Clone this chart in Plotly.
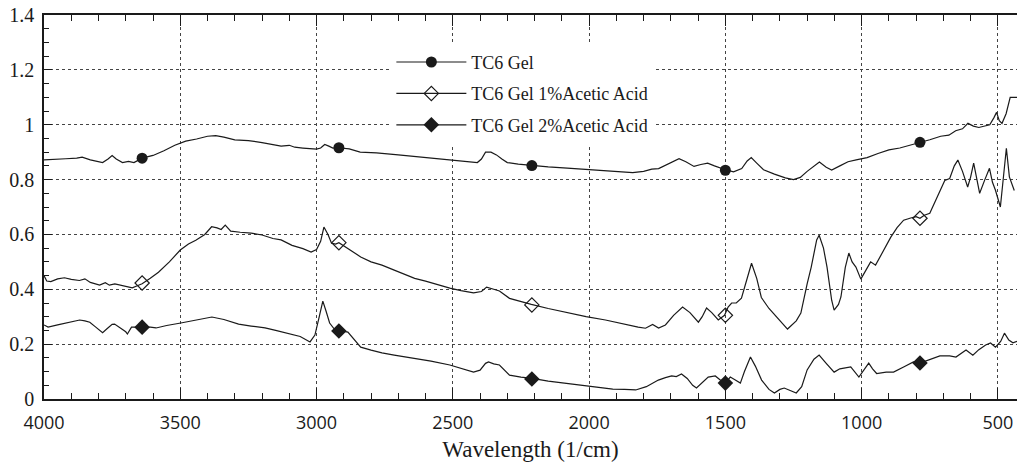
import plotly.graph_objects as go

# TC6 Gel
wn_gel = [4000, 3960, 3920, 3880, 3860, 3830, 3800, 3785, 3765, 3750, 3735, 3712, 3690, 3670, 3655, 3640,
          3600, 3560, 3520, 3480, 3440, 3400, 3370, 3340, 3300, 3250, 3200, 3160, 3130, 3100, 3080, 3050,
          3020, 3000, 2985, 2970, 2955, 2940, 2920, 2880, 2840, 2780, 2700, 2620, 2540, 2460, 2410, 2395,
          2380, 2360, 2340, 2320, 2300, 2260, 2210, 2150, 2080, 2020, 1950, 1880, 1840, 1800, 1770, 1745,
          1720, 1690, 1670, 1645, 1615, 1590, 1565, 1540, 1515, 1500, 1470, 1440, 1420, 1405, 1385, 1360,
          1320, 1280, 1250, 1225, 1200, 1175, 1155, 1130, 1110, 1080, 1050, 1020, 980, 940, 900, 860, 820,
          786, 750, 710, 680, 655, 630, 610, 590, 570, 550, 530, 515, 505, 495, 485, 470, 455, 430]
ab_gel = [0.872, 0.875, 0.876, 0.878, 0.882, 0.872, 0.866, 0.862, 0.875, 0.888, 0.875, 0.862, 0.866, 0.862,
          0.870, 0.878, 0.888, 0.905, 0.925, 0.940, 0.948, 0.958, 0.960, 0.955, 0.945, 0.942, 0.935, 0.926,
          0.922, 0.925, 0.918, 0.915, 0.912, 0.911, 0.915, 0.928, 0.922, 0.915, 0.916, 0.912, 0.900, 0.897,
          0.890, 0.882, 0.875, 0.868, 0.862, 0.875, 0.900, 0.900, 0.890, 0.875, 0.862, 0.856, 0.851, 0.846,
          0.842, 0.838, 0.832, 0.828, 0.825, 0.830, 0.838, 0.840, 0.852, 0.866, 0.876, 0.865, 0.848, 0.855,
          0.860, 0.850, 0.840, 0.836, 0.828, 0.840, 0.868, 0.880, 0.860, 0.836, 0.820, 0.806, 0.800, 0.808,
          0.830, 0.850, 0.864, 0.845, 0.835, 0.850, 0.865, 0.872, 0.880, 0.895, 0.908, 0.915, 0.925, 0.935,
          0.945, 0.958, 0.962, 0.978, 0.985, 1.005, 0.995, 0.990, 0.995, 1.000, 1.025, 1.045, 1.015, 1.005,
          1.040, 1.100, 1.100]

# TC6 Gel 1% Acetic Acid
wn_1 = [4000, 3990, 3975, 3950, 3925, 3900, 3870, 3850, 3830, 3810, 3796, 3775, 3760, 3740, 3730, 3710,
        3690, 3676, 3660, 3640, 3610, 3580, 3540, 3500, 3470, 3443, 3410, 3385, 3365, 3350, 3335, 3315,
        3280, 3240, 3200, 3160, 3130, 3090, 3050, 3020, 3000, 2985, 2973, 2958, 2945, 2930, 2918, 2890,
        2860, 2838, 2800, 2760, 2715, 2680, 2640, 2600, 2560, 2511, 2470, 2424, 2395, 2376, 2350, 2329,
        2292, 2250, 2212, 2150, 2080, 2011, 1940, 1865, 1820, 1793, 1767, 1745, 1720, 1690, 1657, 1630,
        1599, 1585, 1569, 1550, 1526, 1503, 1490, 1477, 1460, 1441, 1425, 1404, 1385, 1368, 1340, 1300,
        1272, 1240, 1223, 1200, 1185, 1165, 1156, 1140, 1127, 1110, 1101, 1085, 1076, 1060, 1047, 1035,
        1021, 1003, 985, 967, 949, 920, 893, 870, 846, 820, 800, 786, 770, 750, 720, 695, 677, 660, 647,
        630, 611, 600, 589, 578, 567, 549, 531, 520, 509, 491, 480, 469, 458, 440]
ab_1 = [0.450, 0.430, 0.428, 0.438, 0.442, 0.436, 0.432, 0.438, 0.425, 0.420, 0.415, 0.424, 0.415, 0.420,
        0.418, 0.412, 0.410, 0.405, 0.412, 0.420, 0.440, 0.462, 0.500, 0.543, 0.565, 0.579, 0.600, 0.628,
        0.624, 0.618, 0.634, 0.612, 0.608, 0.605, 0.598, 0.585, 0.580, 0.560, 0.548, 0.536, 0.545, 0.575,
        0.627, 0.600, 0.568, 0.565, 0.570, 0.552, 0.532, 0.518, 0.500, 0.488, 0.470, 0.455, 0.440, 0.430,
        0.418, 0.404, 0.395, 0.387, 0.392, 0.408, 0.400, 0.394, 0.367, 0.355, 0.345, 0.330, 0.315, 0.300,
        0.288, 0.270, 0.262, 0.258, 0.272, 0.259, 0.270, 0.305, 0.335, 0.315, 0.280, 0.300, 0.332, 0.315,
        0.288, 0.305, 0.335, 0.350, 0.350, 0.368, 0.420, 0.495, 0.440, 0.370, 0.330, 0.285, 0.255, 0.285,
        0.313, 0.420, 0.481, 0.580, 0.597, 0.550, 0.481, 0.360, 0.324, 0.345, 0.372, 0.480, 0.532, 0.500,
        0.481, 0.437, 0.470, 0.500, 0.488, 0.540, 0.590, 0.625, 0.652, 0.660, 0.665, 0.659, 0.670, 0.677,
        0.740, 0.797, 0.804, 0.850, 0.871, 0.830, 0.773, 0.810, 0.860, 0.800, 0.750, 0.797, 0.841, 0.790,
        0.761, 0.700, 0.800, 0.914, 0.810, 0.760]

# TC6 Gel 2% Acetic Acid
wn_2 = [4000, 3985, 3950, 3916, 3890, 3869, 3850, 3832, 3810, 3795, 3785, 3770, 3750, 3741, 3720, 3700,
        3694, 3679, 3660, 3640, 3610, 3589, 3550, 3498, 3440, 3384, 3340, 3286, 3240, 3189, 3150, 3105,
        3060, 3024, 3006, 2990, 2977, 2965, 2952, 2935, 2918, 2885, 2860, 2838, 2800, 2760, 2715, 2650,
        2580, 2511, 2470, 2424, 2400, 2380, 2369, 2350, 2329, 2292, 2250, 2209, 2150, 2080, 2011, 1950,
        1913, 1870, 1829, 1790, 1764, 1746, 1720, 1697, 1680, 1661, 1640, 1620, 1606, 1585, 1563, 1537,
        1520, 1500, 1482, 1465, 1445, 1430, 1408, 1390, 1367, 1340, 1320, 1300, 1284, 1260, 1240, 1220,
        1200, 1175, 1156, 1130, 1101, 1080, 1065, 1040, 1010, 995, 974, 960, 945, 910, 883, 846, 810, 786,
        750, 713, 677, 654, 617, 592, 570, 545, 527, 509, 490, 476, 460, 445, 430]
ab_2 = [0.270, 0.262, 0.270, 0.277, 0.282, 0.288, 0.285, 0.280, 0.262, 0.248, 0.242, 0.255, 0.272, 0.273,
        0.258, 0.245, 0.237, 0.262, 0.262, 0.262, 0.262, 0.259, 0.268, 0.277, 0.288, 0.299, 0.290, 0.273,
        0.266, 0.259, 0.250, 0.240, 0.228, 0.208, 0.233, 0.300, 0.357, 0.320, 0.277, 0.255, 0.250, 0.244,
        0.215, 0.189, 0.178, 0.168, 0.160, 0.150, 0.138, 0.124, 0.112, 0.098, 0.105, 0.130, 0.135, 0.128,
        0.124, 0.087, 0.080, 0.075, 0.065, 0.056, 0.046, 0.040, 0.036, 0.035, 0.033, 0.045, 0.058, 0.069,
        0.078, 0.084, 0.082, 0.091, 0.075, 0.050, 0.040, 0.060, 0.080, 0.084, 0.070, 0.058, 0.080, 0.070,
        0.058, 0.100, 0.153, 0.120, 0.069, 0.035, 0.022, 0.035, 0.040, 0.030, 0.022, 0.045, 0.106, 0.145,
        0.160, 0.130, 0.098, 0.110, 0.113, 0.117, 0.080, 0.100, 0.131, 0.110, 0.093, 0.098, 0.098, 0.117,
        0.135, 0.131, 0.145, 0.157, 0.157, 0.153, 0.179, 0.160, 0.180, 0.197, 0.204, 0.189, 0.210, 0.240,
        0.215, 0.205, 0.210]

# marker positions (every few hundred points in the original)
mk_wn = [3640, 2918, 2210, 1500, 786]
mk_gel = [0.878, 0.916, 0.851, 0.834, 0.936]
mk_1 = [0.423, 0.570, 0.343, 0.305, 0.659]
mk_2 = [0.262, 0.248, 0.073, 0.058, 0.131]

names = ["TC6 Gel", "TC6 Gel 1%Acetic Acid", "TC6 Gel 2%Acetic Acid"]
INK = "#1a1a1a"
marker_styles = [dict(symbol="circle", size=11, color=INK),
                 dict(symbol="diamond-open", size=11, color=INK, line=dict(width=1.2, color=INK)),
                 dict(symbol="diamond", size=12, color=INK)]

fig = go.Figure()
series = [(wn_gel, ab_gel, mk_gel), (wn_1, ab_1, mk_1), (wn_2, ab_2, mk_2)]
for i, (xs, ys, ms) in enumerate(series):
    fig.add_trace(go.Scatter(x=xs, y=ys, mode="lines", line=dict(color=INK, width=1.2),
                             showlegend=False, hoverinfo="skip"))
    fig.add_trace(go.Scatter(x=mk_wn, y=ms, mode="markers", marker=marker_styles[i], showlegend=False))
    # legend entry
    fig.add_trace(go.Scatter(x=[None], y=[None], mode="lines+markers", name=names[i],
                             line=dict(color=INK, width=1.2), marker=marker_styles[i],
                             legendgroup=str(i)))

serif = "Liberation Serif"
sans = "Open Sans"
fig.update_xaxes(range=[4000, 430], autorange=False, tickvals=[4000, 3500, 3000, 2500, 2000, 1500, 1000, 500],
                 ticks="inside", ticklen=11, tickcolor=INK, showline=True, linecolor=INK, linewidth=1.5,
                 mirror="ticks", showgrid=True, gridcolor="#444", griddash="dot", gridwidth=1,
                 minor=dict(dtick=100, ticks="inside", ticklen=6, tickcolor=INK, showgrid=False),
                 zeroline=False, automargin=False, ticklabelstandoff=7,
                 title=dict(text="Wavelength (1/cm)", font=dict(size=23, family=serif, color=INK), standoff=8),
                 tickfont=dict(size=18, family=sans, color=INK))
fig.update_yaxes(range=[0, 1.4], autorange=False, dtick=0.2, ticks="inside", ticklen=8, tickcolor=INK,
                 showline=True, linecolor=INK, linewidth=1.5, showgrid=True, gridcolor="#444",
                 griddash="dot", gridwidth=1, zeroline=False, automargin=False, ticklabelstandoff=4,
                 minor=dict(dtick=0.05, ticks="inside", ticklen=5, tickcolor=INK, showgrid=False),
                 tickfont=dict(size=20, family=serif, color=INK))
fig.update_layout(width=1017, height=464, margin=dict(l=44, r=0, t=15, b=65),
                  plot_bgcolor="white", paper_bgcolor="white", font=dict(family=serif, color=INK),
                  legend=dict(x=0.357, y=0.925, xanchor="left", yanchor="top", bgcolor="white",
                              font=dict(size=18, family=serif, color=INK), itemwidth=70,
                              traceorder="grouped", tracegroupgap=5))
# drop the default 8px page margin so the figure sits at the window's corner
fig.write_html("out.html", config={"displayModeBar": False},
               post_script="document.body.style.margin='0';")
